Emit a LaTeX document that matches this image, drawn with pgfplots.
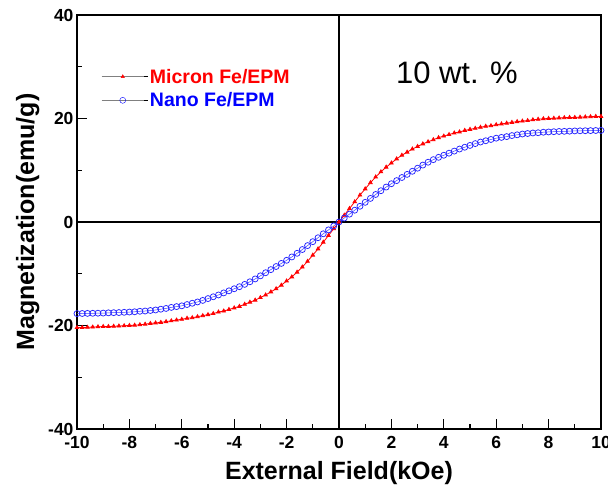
\documentclass[border=0pt]{standalone}
\usepackage{pgfplots}
\pgfplotsset{compat=1.18}
\usepackage{pgfplotstable}
\usepackage{fontspec}
\setmainfont{Liberation Sans}
\pgfplotstableread{
x m n
-10.0 -20.4 -17.7
-9.8 -20.4 -17.68
-9.6 -20.35 -17.66
-9.4 -20.3 -17.64
-9.2 -20.25 -17.62
-9.0 -20.2 -17.6
-8.8 -20.2 -17.55
-8.6 -20.15 -17.52
-8.4 -20.1 -17.5
-8.2 -20.05 -17.45
-8.0 -20.0 -17.4
-7.8 -19.95 -17.35
-7.6 -19.85 -17.25
-7.4 -19.75 -17.2
-7.2 -19.6 -17.1
-7.0 -19.5 -17.0
-6.8 -19.4 -16.85
-6.6 -19.25 -16.7
-6.4 -19.1 -16.5
-6.2 -18.95 -16.35
-6.0 -18.8 -16.2
-5.8 -18.6 -15.95
-5.6 -18.5 -15.7
-5.4 -18.3 -15.45
-5.2 -18.1 -15.15
-5.0 -17.9 -14.8
-4.8 -17.7 -14.45
-4.6 -17.4 -14.1
-4.4 -17.2 -13.7
-4.2 -16.9 -13.3
-4.0 -16.6 -12.9
-3.8 -16.3 -12.5
-3.6 -15.9 -12.05
-3.4 -15.5 -11.55
-3.2 -15.1 -11.0
-3.0 -14.6 -10.4
-2.8 -14.1 -9.8
-2.6 -13.5 -9.2
-2.4 -12.9 -8.6
-2.2 -12.2 -8.0
-2.0 -11.4 -7.4
-1.8 -10.6 -6.75
-1.6 -9.7 -6.05
-1.4 -8.7 -5.32
-1.2 -7.6 -4.56
-1.0 -6.4 -3.8
-0.8 -5.2 -3.04
-0.6 -3.9 -2.28
-0.4 -2.6 -1.52
-0.2 -1.3 -0.76
0.0 0 0
0.2 1.3 0.76
0.4 2.6 1.52
0.6 3.9 2.28
0.8 5.2 3.04
1.0 6.4 3.8
1.2 7.6 4.56
1.4 8.7 5.32
1.6 9.7 6.05
1.8 10.6 6.75
2.0 11.4 7.4
2.2 12.2 8.0
2.4 12.9 8.6
2.6 13.5 9.2
2.8 14.1 9.8
3.0 14.6 10.4
3.2 15.1 11.0
3.4 15.5 11.55
3.6 15.9 12.05
3.8 16.3 12.5
4.0 16.6 12.9
4.2 16.9 13.3
4.4 17.2 13.7
4.6 17.4 14.1
4.8 17.7 14.45
5.0 17.9 14.8
5.2 18.1 15.15
5.4 18.3 15.45
5.6 18.5 15.7
5.8 18.6 15.95
6.0 18.8 16.2
6.2 18.95 16.35
6.4 19.1 16.5
6.6 19.25 16.7
6.8 19.4 16.85
7.0 19.5 17.0
7.2 19.6 17.1
7.4 19.75 17.2
7.6 19.85 17.25
7.8 19.95 17.35
8.0 20.0 17.4
8.2 20.05 17.45
8.4 20.1 17.5
8.6 20.15 17.52
8.8 20.2 17.55
9.0 20.2 17.6
9.2 20.25 17.62
9.4 20.3 17.64
9.6 20.35 17.66
9.8 20.4 17.68
10.0 20.4 17.7
}\datatable
\begin{document}
\begin{tikzpicture}
\path[use as bounding box] (-77pt,-63pt) rectangle (531pt,429pt);
\begin{axis}[
  scale only axis,
  width=524pt, height=414pt,
  at={(0pt,0pt)}, anchor=south west,
  xmin=-10, xmax=10, ymin=-40, ymax=40,
  xtick={-10,-8,...,10},
  ytick={-40,-20,0,20,40},
  minor x tick num=1,
  minor y tick num=1,
  tick align=inside,
  tick pos=left,
  major tick length=10pt,
  minor tick length=5pt,
  axis line style={line width=1.5pt},
  every tick/.style={black, line width=1.2pt},
  /pgf/number format/assume math mode=true,
  tick label style={font=\fontsize{17.5}{20}\selectfont\bfseries},
  xticklabel style={yshift=-4pt},
  xlabel={External Field(kOe)},
  ylabel={Magnetization(emu/g)},
  label style={font=\fontsize{25}{30}\selectfont\bfseries},
  xlabel style={yshift=-6pt},
  ylabel style={yshift=2pt},
  legend style={at={(rel axis cs:0.04,0.88)}, anchor=north west, draw=none, fill=none,
    font=\fontsize{19.5}{23}\selectfont\bfseries, row sep=4pt},
  legend cell align=left,
]
\draw[black, line width=1.2pt] (axis cs:0,-40) -- (axis cs:0,40);
\draw[black, line width=1.2pt] (axis cs:-10,0) -- (axis cs:10,0);
\addplot[forget plot, red, line width=0.8pt, mark=triangle*, mark size=2pt, mark options={fill=red, draw=red}] table[x=x, y=m] {\datatable};
\addplot[forget plot, blue!75, line width=0.5pt, mark=o, mark size=3pt, mark options={draw=blue!85, line width=0.75pt}] table[x=x, y=n] {\datatable};
\addlegendimage{legend image code/.code={\path (0pt,0pt) -- (46pt,0pt); \draw[gray, line width=1.2pt] (0pt,0pt) -- (42pt,0pt); \draw[red, mark=triangle*, mark size=2pt] plot coordinates {(21pt,0pt)};}}
\addlegendentry{\textcolor{red}{Micron Fe/EPM}}
\addlegendimage{legend image code/.code={\path (0pt,0pt) -- (46pt,0pt); \draw[gray, line width=1.2pt] (0pt,0pt) -- (42pt,0pt); \draw[blue, fill=white, mark=o, mark size=3pt, mark options={fill=white}] plot coordinates {(21pt,0pt)};}}
\addlegendentry{\textcolor{blue}{Nano Fe/EPM}}
\node[font=\fontsize{31}{36}\selectfont] at (axis cs:4.5,28.8) {10 wt. \%};
\end{axis}
\end{tikzpicture}
\end{document}
